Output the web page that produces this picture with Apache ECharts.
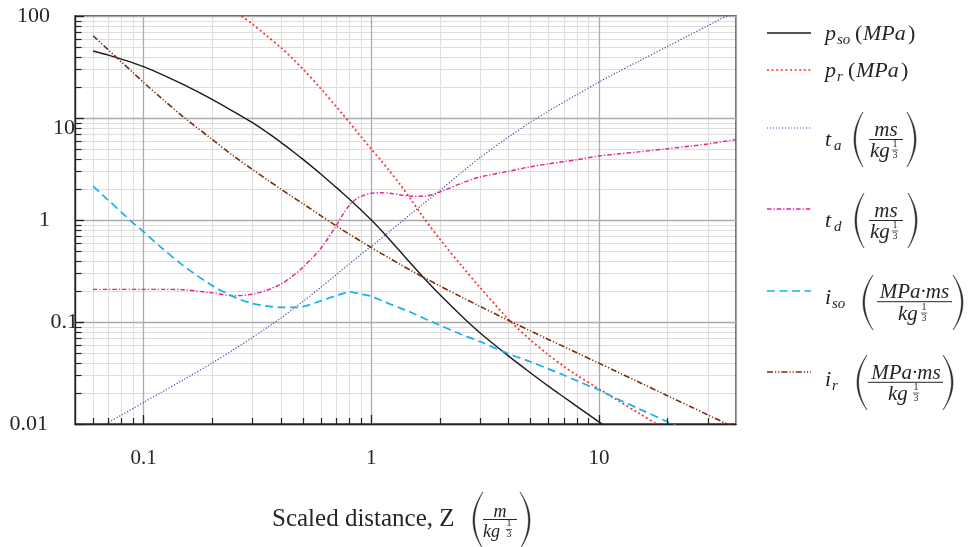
<!DOCTYPE html>
<html><head><meta charset="utf-8">
<script src="https://cdn.jsdelivr.net/npm/echarts@6/dist/echarts.min.js"></script>
<style>html,body{margin:0;padding:0;background:#fff}#c{width:968px;height:547px}</style>
</head><body><div id="c"></div>
<script>
// ---------- data ----------
const zValues = [0.06,0.07,0.08,0.09,0.1,0.12,0.15,0.2,0.25,0.3,0.35,0.4,0.45,0.5,0.6,0.7,0.75,0.8,0.85,0.9,1.0,1.1,1.2,1.35,1.5,1.7,2,2.5,3,4,5,6,7,8,10,12,15,20,25,30,40];
const pso = [45.4,41.4,37.8,34.65,31.85,26.8,21.2,15.23,11.47,9.05,7.18,5.8,4.75,3.95,2.83,2.1,1.833,1.608,1.421,1.258,1.003,0.801,0.647,0.482,0.370,0.272,0.1857,0.1137,0.0783,0.0465,0.0318,0.0235,0.0184,0.0149,0.0105,0.0079,null,null,null,null,null];
const pr = [null,null,null,null,null,null,null,null,113,83.6,63.1,49.3,38.5,30.4,19.44,13.02,10.85,9.11,7.72,6.61,4.96,3.87,3.046,2.177,1.571,1.053,0.652,0.353,0.219,0.1067,0.0668,0.0477,0.0368,0.0301,0.0221,0.01726,0.01274,0.00862,0.00636,null,null];
const ta = [0.0085,0.01034,0.01225,0.01423,0.01627,0.02051,0.02723,0.0396,0.0539,0.0702,0.0887,0.1087,0.1325,0.1581,0.2187,0.2896,0.329,0.3693,0.412,0.4607,0.55,0.6532,0.7673,0.954,1.159,1.452,1.945,2.94,4.08,6.5,9.08,11.68,14.27,16.97,22.49,27.9,36.15,50.3,65.0,80.2,111.7];
const td = [0.209,0.209,0.209,0.209,0.209,0.209,0.207,0.193,0.181,0.187,0.206,0.235,0.28,0.342,0.526,0.872,1.13,1.385,1.58,1.70,1.83,1.85,1.83,1.76,1.71,1.71,1.88,2.3,2.64,3.0,3.33,3.55,3.73,3.9,4.24,4.43,4.66,5.0,5.29,5.56,6.15];
const iso = [2.15,1.565,1.19,0.934,0.767,0.534,0.355,0.228,0.176,0.152,0.143,0.139,0.139,0.141,0.161,0.181,0.19,0.198,0.193,0.188,0.179,0.164,0.151,0.136,0.124,0.109,0.0931,0.0751,0.0643,0.0489,0.0408,0.0347,0.0302,0.0265,0.0215,0.0177,0.0141,0.0105,0.0084,null,null];
const ir = [64,46.6,35.4,27.8,22.3,15.6,10.2,6.17,4.2,3.14,2.47,2.02,1.69,1.45,1.103,0.879,0.796,0.727,0.669,0.619,0.5375,0.474,0.4233,0.364,0.3188,0.2737,0.226,0.1749,0.1426,0.1039,0.0818,0.0675,0.0574,0.0499,0.0395,0.03256,0.0257,0.01895,0.01496,0.01233,0.00909];

const xTickLabels = ['0.1','1','10'];
const yTickLabels = ['0.01','0.1','1','10','100'];
const xMinorGrid = [0.06,0.07,0.08,0.09,0.2,0.3,0.4,0.5,0.6,0.7,0.8,0.9,2,3,4,5,6,7,8,9,20,30];
const yMinorGrid = [0.02,0.03,0.04,0.05,0.06,0.07,0.08,0.09,0.2,0.3,0.4,0.5,0.6,0.7,0.8,0.9,2,3,4,5,6,7,8,9,20,30,40,50,60,70,80,90];

// ---------- styles ----------
const SERIF = '"Liberation Serif","DejaVu Serif",serif';
const TXT = '#262626';
const seriesDefs = [
  {name:'pso', vals:pso, color:'#1c1c1c', width:1.4, dash:'solid'},
  {name:'pr',  vals:pr,  color:'#ff2b2b', width:1.7, dash:[2,2.6]},
  {name:'ta',  vals:ta,  color:'#4848aa', width:1.2, dash:[1.2,1.8]},
  {name:'td',  vals:td,  color:'#ee1a92', width:1.4, dash:[4.5,2,1.2,2]},
  {name:'iso', vals:iso, color:'#1aaeea', width:1.7, dash:[8,4.5]},
  {name:'ir',  vals:ir,  color:'#7a2e0a', width:1.6, dash:[6,2,1.2,2,1.2,2]}
];

const yRich = {
  y0:{padding:[0,30,0,0]},
  y1:{padding:[0,0,0,0]},
  y2:{padding:[0,28,0,0]},
  y3:{padding:[20,3,0,0]},
  y4:{padding:[0,28,0,0]}
};
Object.keys(yRich).forEach(k=>Object.assign(yRich[k],{fontFamily:SERIF,fontSize:22,color:TXT}));

const option = {
  animation:false,
  backgroundColor:'#ffffff',
  grid:{left:75,right:232,top:16,bottom:123,show:true,borderColor:'#222',borderWidth:1.3,backgroundColor:'transparent'},
  xAxis:{
    type:'log',logBase:10,min:0.05,max:40,
    axisLine:{show:true,lineStyle:{color:'#222',width:1.3}},
    axisTick:{show:true,inside:true,length:9,lineStyle:{color:'#222',width:1.3}},
    splitLine:{show:true,lineStyle:{color:'#ababab',width:1.3}},
    axisLabel:{
      margin:24,fontFamily:SERIF,fontSize:21,color:TXT,showMinLabel:false,showMaxLabel:false,
      formatter:function(v){const k=Math.round(Math.log10(v));const idx=k+1;
        if(Math.abs(Math.log10(v)-k)>1e-6||idx<0||idx>=xTickLabels.length) return '';
        return xTickLabels[idx];}
    }
  },
  yAxis:{
    type:'log',logBase:10,min:0.01,max:100,
    axisLine:{show:true,lineStyle:{color:'#222',width:1.3}},
    axisTick:{show:true,inside:true,length:9,lineStyle:{color:'#222',width:1.3}},
    splitLine:{show:true,lineStyle:{color:'#ababab',width:1.3}},
    axisLabel:{
      margin:-3,fontFamily:SERIF,fontSize:22,color:TXT,
      formatter:function(v){const k=Math.round(Math.log10(v));const idx=k+2;
        if(idx<0||idx>=yTickLabels.length) return '';
        return '{y'+idx+'|'+yTickLabels[idx]+'}';},
      rich:yRich
    }
  },
  series: seriesDefs.map(d=>({
    type:'line',name:d.name,symbol:'none',showSymbol:false,smooth:0.3,clip:true,
    data: zValues.map((z,i)=> d.vals[i]==null?null:[z,d.vals[i]]).filter(Boolean),
    lineStyle:{color:d.color,width:d.width,type:d.dash},
    emphasis:{disabled:true}
  }))
};

const chart = echarts.init(document.getElementById('c'));
chart.setOption(option);

// ---------- minor grid + minor ticks (positions from axis scales) ----------
const g = [];
const P = (x,y)=>chart.convertToPixel({gridIndex:0},[x,y]);
const r5 = v=>Math.round(v)+0.5;
xMinorGrid.forEach(v=>{
  const a=P(v,0.01), b=P(v,100), x=r5(a[0]);
  g.push({type:'line',z:-1,silent:true,shape:{x1:x,y1:a[1],x2:x,y2:b[1]},style:{stroke:'#dedede',lineWidth:1.1}});
  g.push({type:'line',z:5,silent:true,shape:{x1:x,y1:a[1],x2:x,y2:a[1]-6},style:{stroke:'#222',lineWidth:1.2}});
});
yMinorGrid.forEach(v=>{
  const a=P(0.05,v), b=P(40,v), y=r5(a[1]);
  g.push({type:'line',z:-1,silent:true,shape:{x1:a[0],y1:y,x2:b[0],y2:y},style:{stroke:'#dedede',lineWidth:1.1}});
  g.push({type:'line',z:5,silent:true,shape:{x1:a[0],y1:y,x2:a[0]+6.5,y2:y},style:{stroke:'#222',lineWidth:1.2}});
});

// ---------- text helpers ----------
function T(text,x,base,fs,italic,align){
  return {type:'text',silent:true,z:10,style:{text:text,x:x,y:base-0.32*fs,fontSize:fs,fontFamily:SERIF,
    fontStyle:italic?'italic':'normal',fill:TXT,align:align||'left',verticalAlign:'middle'}};
}
function L(x1,y1,x2,y2,stroke,w,dash){
  return {type:'line',silent:true,z:10,shape:{x1:x1,y1:y1,x2:x2,y2:y2},style:{stroke:stroke,lineWidth:w,lineDash:dash||null}};
}
function paren(xe,yt,yb,w,dir){
  const ym=(yt+yb)/2, t=1.6, pts=[];
  const c1=xe+dir*2*w, c2=xe+dir*2*(w-t);
  const N=24;
  for(let i=0;i<=N;i++){const s=i/N;pts.push([(1-s)*(1-s)*xe+2*s*(1-s)*c1+s*s*xe,(1-s)*(1-s)*yt+2*s*(1-s)*ym+s*s*yb]);}
  for(let i=N;i>=0;i--){const s=i/N;pts.push([(1-s)*(1-s)*xe+2*s*(1-s)*c2+s*s*xe,(1-s)*(1-s)*yt+2*s*(1-s)*ym+s*s*yb]);}
  return {type:'polygon',silent:true,z:10,shape:{points:pts},style:{fill:TXT,stroke:TXT,lineWidth:0.5}};
}
function frac(num,numCx,numBase,barY,barX1,barX2,denX,denBase,supCx,fs){
  const out=[];
  out.push(T(num,numCx,numBase,fs,true,'center'));
  out.push(L(barX1,barY,barX2,barY,TXT,1));
  out.push(T('kg',denX,denBase,fs,true,'left'));
  out.push(T('1',supCx,denBase-10,10,false,'center'));
  out.push(L(supCx-3.2,denBase-8,supCx+3.2,denBase-8,TXT,0.7));
  out.push(T('3',supCx,denBase+1,10,false,'center'));
  return out;
}

// ---------- legend ----------
const LX1=767, LX2=811;
const legendY=[33,70,128,209,291,372];
seriesDefs.forEach((d,i)=>{
  g.push(L(LX1,legendY[i],LX2,legendY[i],d.color,d.width,d.dash==='solid'?null:d.dash));
});
// p_so (MPa)
g.push(T('p',825,41,22,true));
g.push(T('so',837,45,15,true));
g.push(T('(',855,41,22,false));
g.push(T('MPa',863,41,22,true));
g.push(T(')',908,41,22,false));
// p_r (MPa)
g.push(T('p',825,78,22,true));
g.push(T('r',837,82,15,true));
g.push(T('(',848,78,22,false));
g.push(T('MPa',856,78,22,true));
g.push(T(')',901,78,22,false));
// t_a
g.push(T('t',825,147,22,true));
g.push(T('a',834,151,15,true));
g.push(paren(863,112,167,9,-1));
frac('ms',886,137,139.5,869,903,870,158,895,21).forEach(e=>g.push(e));
g.push(paren(907,112,167,9,1));
// t_d
g.push(T('t',825,228,22,true));
g.push(T('d',834,232,15,true));
g.push(paren(864,193,248,9,-1));
frac('ms',886,218,220.5,869,903,870,239,895,21).forEach(e=>g.push(e));
g.push(paren(908,193,248,9,1));
// i_so
g.push(T('i',825,305,22,true));
g.push(T('so',832,309,15,true));
g.push(paren(873,275,330,10,-1));
frac('MPa·ms',914.5,299,301.7,877,952,898,321,924,21).forEach(e=>g.push(e));
g.push(paren(953,275,330,10,1));
// i_r
g.push(T('i',825,387,22,true));
g.push(T('r',832,391,15,true));
g.push(paren(867,355,410,10,-1));
frac('MPa·ms',906,380,382.3,868,943,888,401,916,21).forEach(e=>g.push(e));
g.push(paren(943,355,410,10,1));

// ---------- x axis title ----------
g.push(T('Scaled distance, Z',272,527,25,false));
g.push(paren(483,492,549,10,-1));
g.push(T('m',500,518,18,true,'center'));
g.push(L(483,519.5,517,519.5,TXT,1));
g.push(T('kg',483,538,18,true,'left'));
g.push(T('1',509,527,10,false,'center'));
g.push(L(505.8,529.5,512.2,529.5,TXT,0.7));
g.push(T('3',509,538,10,false,'center'));
g.push(paren(520,492,549,10,1));

chart.setOption({graphic:{elements:g}});
</script></body></html>
